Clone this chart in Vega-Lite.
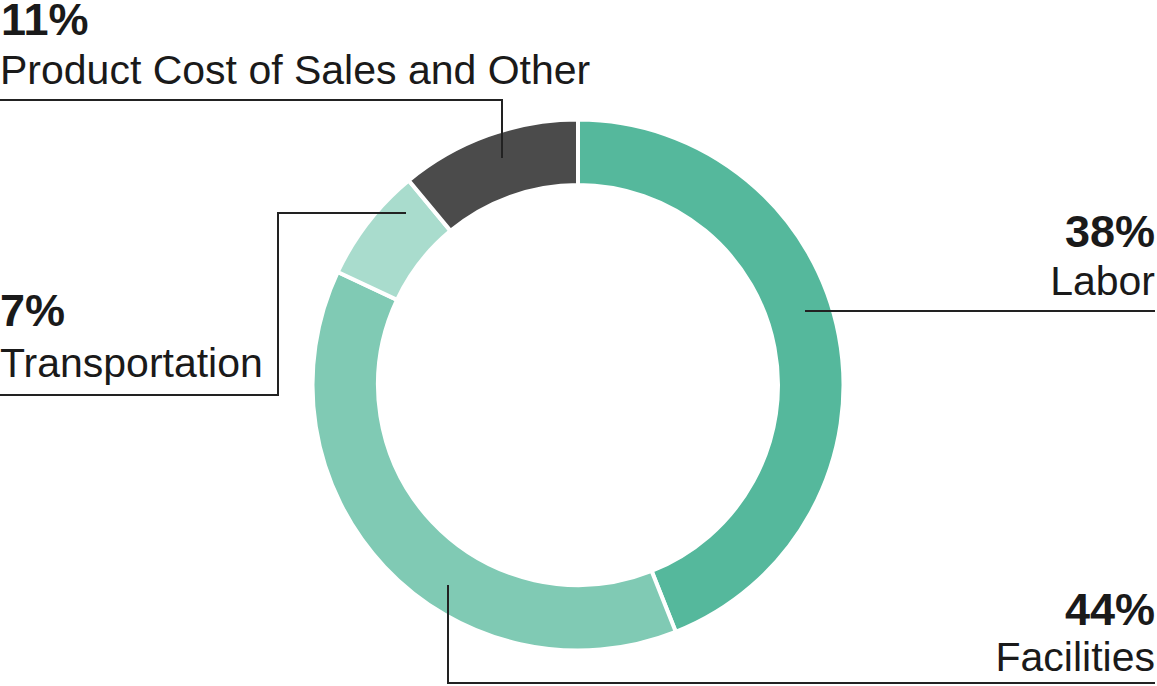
{
  "$schema": "https://vega.github.io/schema/vega-lite/v6.json",
  "width": 1157,
  "height": 686,
  "padding": 0,
  "autosize": "none",
  "background": "white",
  "datasets": {
    "shares": [
      {"category": "Labor", "value": 44, "order": 1},
      {"category": "Facilities", "value": 38, "order": 2},
      {"category": "Transportation", "value": 7, "order": 3},
      {"category": "Product Cost of Sales and Other", "value": 11, "order": 4}
    ],
    "leaders": [
      {"category": "Product", "step": 1, "x": -578, "y": 285},
      {"category": "Product", "step": 2, "x": -76, "y": 285},
      {"category": "Product", "step": 3, "x": -76, "y": 227},
      {"category": "Transportation", "step": 1, "x": -578, "y": -10},
      {"category": "Transportation", "step": 2, "x": -300, "y": -10},
      {"category": "Transportation", "step": 3, "x": -300, "y": 172},
      {"category": "Transportation", "step": 4, "x": -172, "y": 172},
      {"category": "Labor", "step": 1, "x": 227, "y": 74},
      {"category": "Labor", "step": 2, "x": 577, "y": 74},
      {"category": "Facilities", "step": 1, "x": -130, "y": -200},
      {"category": "Facilities", "step": 2, "x": -130, "y": -298},
      {"category": "Facilities", "step": 3, "x": 577, "y": -298}
    ],
    "labels": [
      {"txt": "11%", "kind": "pct", "side": "left", "x": -577, "y": 350},
      {"txt": "Product Cost of Sales and Other", "kind": "name", "side": "left", "x": -578, "y": 301.5},
      {"txt": "7%", "kind": "pct", "side": "left", "x": -578, "y": 59},
      {"txt": "Transportation", "kind": "name", "side": "left", "x": -578, "y": 8},
      {"txt": "38%", "kind": "pct", "side": "right", "x": 577, "y": 138},
      {"txt": "Labor", "kind": "name", "side": "right", "x": 577, "y": 90},
      {"txt": "44%", "kind": "pct", "side": "right", "x": 577, "y": -240},
      {"txt": "Facilities", "kind": "name", "side": "right", "x": 577, "y": -286}
    ]
  },
  "layer": [
    {
      "data": {"name": "shares"},
      "mark": {"type": "arc", "outerRadius": 265.5, "innerRadius": 200, "stroke": "white", "strokeWidth": 4},
      "encoding": {
        "x": {"datum": 0, "type": "quantitative", "scale": {"domain": [-578, 579], "nice": false, "zero": false}, "axis": null},
        "y": {"datum": 0, "type": "quantitative", "scale": {"domain": [-301, 385], "nice": false, "zero": false}, "axis": null},
        "theta": {"field": "value", "type": "quantitative", "stack": true},
        "order": {"field": "order"},
        "color": {
          "field": "category",
          "type": "nominal",
          "scale": {
            "domain": ["Labor", "Facilities", "Transportation", "Product Cost of Sales and Other"],
            "range": ["#55b89c", "#80cab4", "#a9dccd", "#4b4b4b"]
          },
          "legend": null
        }
      }
    },
    {
      "data": {"name": "leaders"},
      "mark": {"type": "line", "color": "#222222", "strokeWidth": 2, "strokeJoin": "miter"},
      "encoding": {
        "x": {"field": "x", "type": "quantitative", "scale": {"domain": [-578, 579], "nice": false, "zero": false}, "axis": null},
        "y": {"field": "y", "type": "quantitative", "scale": {"domain": [-301, 385], "nice": false, "zero": false}, "axis": null},
        "detail": {"field": "category"},
        "order": {"field": "step"}
      }
    },
    {
      "data": {"name": "labels"},
      "transform": [{"filter": "datum.kind == 'pct' && datum.side == 'left'"}],
      "mark": {"type": "text", "align": "left", "baseline": "alphabetic", "font": "Liberation Sans, Arial, sans-serif", "fontSize": 45, "fontWeight": "bold", "color": "#1a1a1a"},
      "encoding": {
        "x": {"field": "x", "type": "quantitative", "scale": {"domain": [-578, 579], "nice": false, "zero": false}, "axis": null},
        "y": {"field": "y", "type": "quantitative", "scale": {"domain": [-301, 385], "nice": false, "zero": false}, "axis": null},
        "text": {"field": "txt"}
      }
    },
    {
      "data": {"name": "labels"},
      "transform": [{"filter": "datum.kind == 'name' && datum.side == 'left'"}],
      "mark": {"type": "text", "align": "left", "baseline": "alphabetic", "font": "Liberation Sans, Arial, sans-serif", "fontSize": 41, "color": "#1a1a1a"},
      "encoding": {
        "x": {"field": "x", "type": "quantitative", "scale": {"domain": [-578, 579], "nice": false, "zero": false}, "axis": null},
        "y": {"field": "y", "type": "quantitative", "scale": {"domain": [-301, 385], "nice": false, "zero": false}, "axis": null},
        "text": {"field": "txt"}
      }
    },
    {
      "data": {"name": "labels"},
      "transform": [{"filter": "datum.kind == 'pct' && datum.side == 'right'"}],
      "mark": {"type": "text", "align": "right", "baseline": "alphabetic", "font": "Liberation Sans, Arial, sans-serif", "fontSize": 45, "fontWeight": "bold", "color": "#1a1a1a"},
      "encoding": {
        "x": {"field": "x", "type": "quantitative", "scale": {"domain": [-578, 579], "nice": false, "zero": false}, "axis": null},
        "y": {"field": "y", "type": "quantitative", "scale": {"domain": [-301, 385], "nice": false, "zero": false}, "axis": null},
        "text": {"field": "txt"}
      }
    },
    {
      "data": {"name": "labels"},
      "transform": [{"filter": "datum.kind == 'name' && datum.side == 'right'"}],
      "mark": {"type": "text", "align": "right", "baseline": "alphabetic", "font": "Liberation Sans, Arial, sans-serif", "fontSize": 41, "color": "#1a1a1a"},
      "encoding": {
        "x": {"field": "x", "type": "quantitative", "scale": {"domain": [-578, 579], "nice": false, "zero": false}, "axis": null},
        "y": {"field": "y", "type": "quantitative", "scale": {"domain": [-301, 385], "nice": false, "zero": false}, "axis": null},
        "text": {"field": "txt"}
      }
    }
  ],
  "config": {"view": {"stroke": null}}
}
